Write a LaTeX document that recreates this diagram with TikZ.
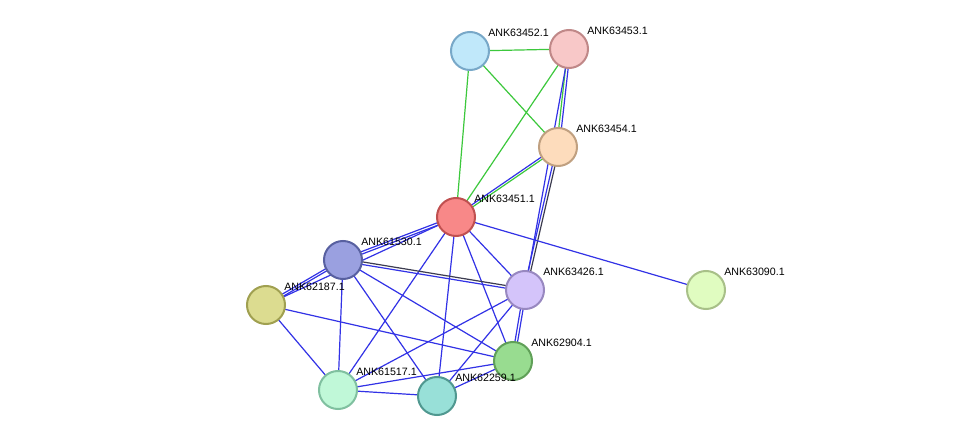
\documentclass[tikz,border=0pt]{standalone}
\usepackage{fontspec}
\setmainfont{Liberation Sans}
\begin{document}
\begin{tikzpicture}[x=0.75pt,y=-0.75pt,
  nd/.style={circle,minimum size=28.5pt,inner sep=0pt,line width=1.5pt},
  lb/.style={anchor=south west,font=\fontsize{8}{9}\selectfont,inner sep=0pt},
  gr/.style={draw={rgb,255:red,60;green,200;blue,60},line width=0.9pt},
  bl/.style={draw={rgb,255:red,50;green,50;blue,230},line width=0.9pt},
  dk/.style={draw={rgb,255:red,60;green,60;blue,80},line width=0.9pt}]
\useasboundingbox (0,0) rectangle (976,442);
\fill[white] (0,0) rectangle (976,442);
\def\N#1#2#3#4#5{\node[nd,fill={rgb,255:#4},draw={rgb,255:#5}] (#1) at #2 {}; \node[lb] (l#1) at ($#2+(17,-15)$) {#3};}
\coordinate (p52) at (470,51); \coordinate (p53) at (569,49); \coordinate (p54) at (558,147);
\coordinate (p51) at (456,217); \coordinate (p30) at (343,260); \coordinate (p87) at (266,305);
\coordinate (p26) at (525,290); \coordinate (p90) at (706,290); \coordinate (p04) at (513,361);
\coordinate (p17) at (338,390); \coordinate (p59) at (437,396);
% edges
\draw[gr] (p52)--(p53); \draw[gr] (p52)--(p54); \draw[gr] (p52)--(p51); \draw[gr] (p53)--(p51);
\draw[gr,transform canvas={xshift=-1pt}] (p53)--(p54); \draw[bl,transform canvas={xshift=1pt}] (p53)--(p54);
\draw[bl] (p53)--(p26);
\draw[bl,transform canvas={xshift=-1pt}] (p54)--(p26); \draw[dk,transform canvas={xshift=1pt}] (p54)--(p26);
\draw[gr,transform canvas={yshift=-1pt}] (p54)--(p51); \draw[bl,transform canvas={yshift=1pt}] (p54)--(p51);
\draw[bl,transform canvas={yshift=-1pt}] (p51)--(p30); \draw[bl,transform canvas={yshift=1pt}] (p51)--(p30);
\foreach \t in {p87,p26,p90,p04,p17,p59} \draw[bl] (p51)--(\t);
\draw[bl,transform canvas={yshift=-1pt}] (p30)--(p87); \draw[bl,transform canvas={yshift=1pt}] (p30)--(p87);
\draw[bl,transform canvas={yshift=-1pt}] (p30)--(p26); \draw[dk,transform canvas={yshift=1pt}] (p30)--(p26);
\foreach \t in {p04,p17,p59} \draw[bl] (p30)--(\t);
\draw[bl] (p87)--(p04); \draw[bl] (p87)--(p17);
\draw[bl,transform canvas={xshift=-1pt}] (p26)--(p04); \draw[bl,transform canvas={xshift=1pt}] (p26)--(p04);
\draw[bl] (p26)--(p59); \draw[bl] (p26)--(p17);
\draw[bl] (p17)--(p59); \draw[bl] (p17)--(p04); \draw[bl] (p59)--(p04);
% nodes
\foreach \c/\f/\d/\t in {
 p52/{192,232,250}/{120,168,200}/ANK63452.1,
 p53/{248,200,200}/{192,136,136}/ANK63453.1,
 p54/{253,220,188}/{192,160,128}/ANK63454.1,
 p51/{248,136,136}/{192,80,80}/ANK63451.1,
 p30/{154,160,224}/{88,96,160}/ANK61530.1,
 p87/{220,220,144}/{160,160,80}/ANK62187.1,
 p26/{212,196,250}/{152,136,192}/ANK63426.1,
 p90/{224,252,192}/{168,192,136}/ANK63090.1,
 p04/{152,220,144}/{96,160,88}/ANK62904.1,
 p17/{192,248,216}/{128,192,160}/ANK61517.1,
 p59/{152,224,216}/{80,152,144}/ANK62259.1}{
 \node[nd,fill={rgb,255:red,0},fill=white] at (\c) {};
 \definecolor{fc}{RGB}{\f}\definecolor{dc}{RGB}{\d}
 \node[nd,fill=fc,draw=dc] (n\c) at (\c) {};
 \node[lb] at ([shift={(18,-14)}]\c) {\t};
}
\end{tikzpicture}
\end{document}
